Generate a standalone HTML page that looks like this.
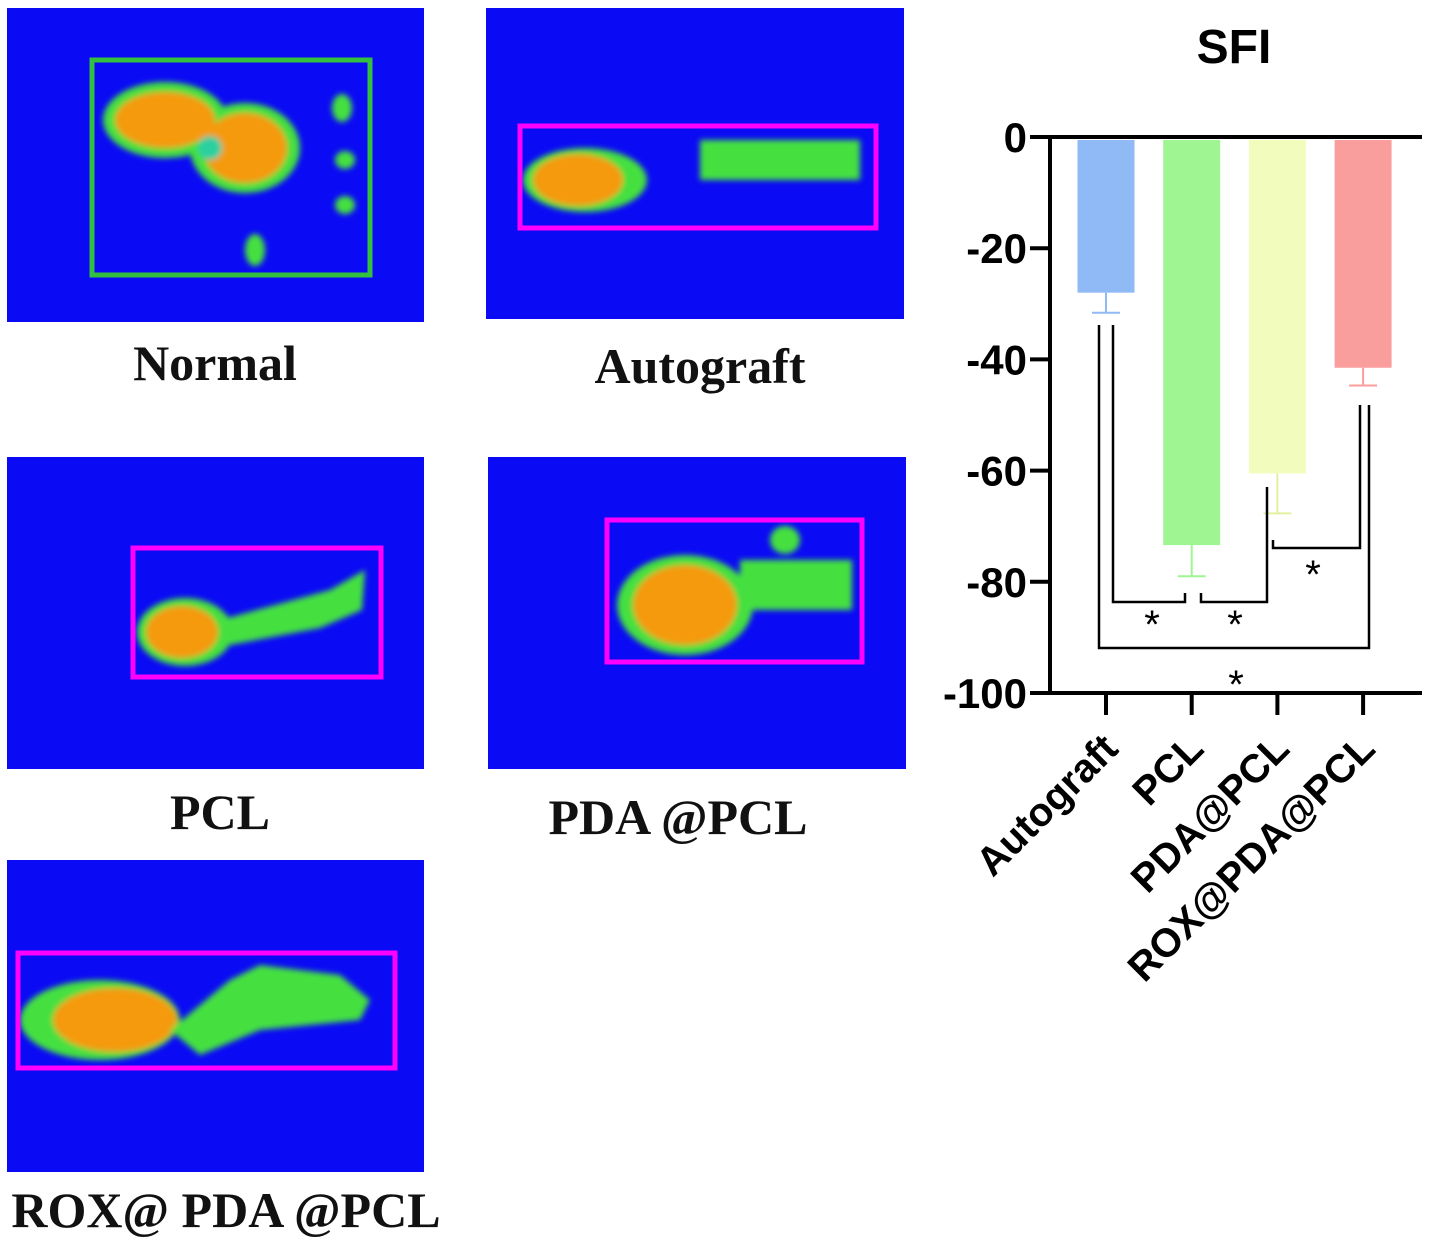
<!DOCTYPE html>
<html><head><meta charset="utf-8"><style>
html,body{margin:0;padding:0;background:#fff;width:1429px;height:1244px;overflow:hidden}
svg text{font-family:"Liberation Sans",sans-serif}
.lbl{font-family:"Liberation Serif",serif;font-weight:bold;font-size:50px;fill:#111}
</style></head><body>
<svg width="1429" height="1244" viewBox="0 0 1429 1244">
<defs><filter id="bl" x="-20%" y="-20%" width="140%" height="140%"><feGaussianBlur stdDeviation="3"/></filter></defs>

<g>
<rect x="7" y="8" width="417" height="314" fill="#0a0af5"/>
<g filter="url(#bl)">
<ellipse cx="165" cy="120" rx="62" ry="38" fill="#44e040"/><ellipse cx="245" cy="148" rx="55" ry="45" fill="#44e040"/>
<ellipse cx="165" cy="120" rx="50" ry="28" fill="#f59a10"/><ellipse cx="245" cy="148" rx="42" ry="35" fill="#f59a10"/>
<circle cx="210" cy="148" r="12" fill="#2ad0a0"/>
<ellipse cx="342" cy="108" rx="10" ry="14" fill="#44e040"/><ellipse cx="345" cy="160" rx="10" ry="9" fill="#44e040"/><ellipse cx="345" cy="205" rx="10" ry="9" fill="#44e040"/><ellipse cx="255" cy="250" rx="10" ry="16" fill="#44e040"/>
</g>
<rect x="92" y="60" width="278" height="215" fill="none" stroke="#33c040" stroke-width="5"/>
</g>
<text class="lbl" x="215" y="380" text-anchor="middle">Normal</text>

<g>
<rect x="486" y="8" width="418" height="311" fill="#0a0af5"/>
<g filter="url(#bl)">
<ellipse cx="585" cy="180" rx="62" ry="32" fill="#44e040"/><ellipse cx="578" cy="180" rx="45" ry="26" fill="#f59a10"/>
<rect x="700" y="140" width="160" height="40" fill="#44e040"/>
</g>
<rect x="520" y="126" width="356" height="102" fill="none" stroke="#ff00ff" stroke-width="5"/>
</g>
<text class="lbl" x="700" y="383" text-anchor="middle">Autograft</text>

<g>
<rect x="7" y="457" width="417" height="312" fill="#0a0af5"/>
<g filter="url(#bl)">
<ellipse cx="185" cy="632" rx="48" ry="34" fill="#44e040"/><ellipse cx="182" cy="632" rx="36" ry="26" fill="#f59a10"/>
<polygon points="220,620 330,590 365,570 362,610 320,628 230,645" fill="#44e040"/>
</g>
<rect x="133" y="548" width="248" height="129" fill="none" stroke="#ff00ff" stroke-width="5"/>
</g>
<text class="lbl" x="220" y="829" text-anchor="middle">PCL</text>

<g>
<rect x="488" y="457" width="418" height="312" fill="#0a0af5"/>
<g filter="url(#bl)">
<ellipse cx="685" cy="605" rx="68" ry="50" fill="#44e040"/><ellipse cx="685" cy="605" rx="52" ry="40" fill="#f59a10"/>
<rect x="740" y="560" width="112" height="50" fill="#44e040"/><ellipse cx="785" cy="540" rx="15" ry="14" fill="#44e040"/>
</g>
<rect x="607" y="520" width="255" height="142" fill="none" stroke="#ff00ff" stroke-width="5"/>
</g>
<text class="lbl" x="678" y="834" text-anchor="middle">PDA @PCL</text>

<g>
<rect x="7" y="860" width="417" height="312" fill="#0a0af5"/>
<g filter="url(#bl)">
<ellipse cx="100" cy="1020" rx="80" ry="40" fill="#44e040"/><ellipse cx="115" cy="1020" rx="62" ry="32" fill="#f59a10"/>
<polygon points="170,1030 230,980 260,965 340,975 370,1000 360,1020 260,1030 200,1055" fill="#44e040"/>
</g>
<rect x="18" y="953" width="377" height="115" fill="none" stroke="#ff00ff" stroke-width="5"/>
</g>
<text class="lbl" x="226" y="1227" text-anchor="middle">ROX@ PDA @PCL</text>

<text x="1234" y="63" text-anchor="middle" font-size="48" font-weight="bold">SFI</text>
<g id="chart"></g>
</svg>
<script>
const categories=["Autograft","PCL","PDA@PCL","ROX@PDA@PCL"];
const means=[-28,-73.4,-60.5,-41.5];
const errors=[3.6,5.6,7.2,3.2];
const colors=["#8fbaf5","#a0f593","#f2fcbc","#f99d9d"];
const yTicks=[0,-20,-40,-60,-80,-100];
const NS="http://www.w3.org/2000/svg";
const g=document.getElementById('chart');
const y0=137,y1=693,axX=1050,xL=1030,xR=1422,cx0=1106,step=85.7,bw=57;
const Y=v=>y0+(0-v)/100*(y1-y0);
const X=i=>cx0+i*step;
function el(t,a){const e=document.createElementNS(NS,t);for(const k in a)e.setAttribute(k,a[k]);g.appendChild(e);return e;}
categories.forEach((c,i)=>{
 const b=el('rect',{x:X(i)-bw/2,y:Y(0)+3,width:bw,height:Y(means[i])-Y(0)-3,fill:colors[i]});
 
 
 const ec=colors[i]=="#f2fcbc"?"#e4f0a0":colors[i];
 const e1=el('line',{x1:X(i),x2:X(i),y1:Y(means[i]),y2:Y(means[i]-errors[i]),stroke:ec,'stroke-width':2});
 
 
 el('line',{x1:X(i)-14,x2:X(i)+14,y1:Y(means[i]-errors[i]),y2:Y(means[i]-errors[i]),stroke:ec,'stroke-width':2});
 el('line',{x1:X(i),x2:X(i),y1:y1,y2:y1+22,stroke:'#000','stroke-width':4});
 const t=el('text',{x:0,y:0,'text-anchor':'end','font-size':40,'font-weight':'bold',transform:`translate(${X(i)+14},${y1+58}) rotate(-45)`});
 t.textContent=c;
 
 
});
el('line',{x1:xL,x2:xR,y1:y0,y2:y0,stroke:'#000','stroke-width':4});
el('line',{x1:xL,x2:xR,y1:y1,y2:y1,stroke:'#000','stroke-width':4});
el('line',{x1:axX,x2:axX,y1:y0,y2:y1,stroke:'#000','stroke-width':4});
yTicks.forEach(v=>{
 el('line',{x1:xL,x2:axX,y1:Y(v),y2:Y(v),stroke:'#000','stroke-width':4});
 const t=el('text',{x:xL-3,y:Y(v)+15,'text-anchor':'end','font-size':42,'font-weight':'bold'});
 t.textContent=v;
 
 
});
function br(pts,sx,sy){const p=el('polyline',{points:pts,fill:'none',stroke:'#000','stroke-width':2.5});
 
 
 const s=el('text',{x:sx,y:sy,'text-anchor':'middle','font-size':40});s.textContent='*';}
br("1113,325 1113,602 1185,602 1185,593",1152,638);
br("1201,593 1201,602 1267,602 1267,487",1235,638);
br("1273,540 1273,548 1360,548 1360,405",1313,588);
br("1099,325 1099,648 1369,648 1369,405",1236,698);
</script>
</body></html>
